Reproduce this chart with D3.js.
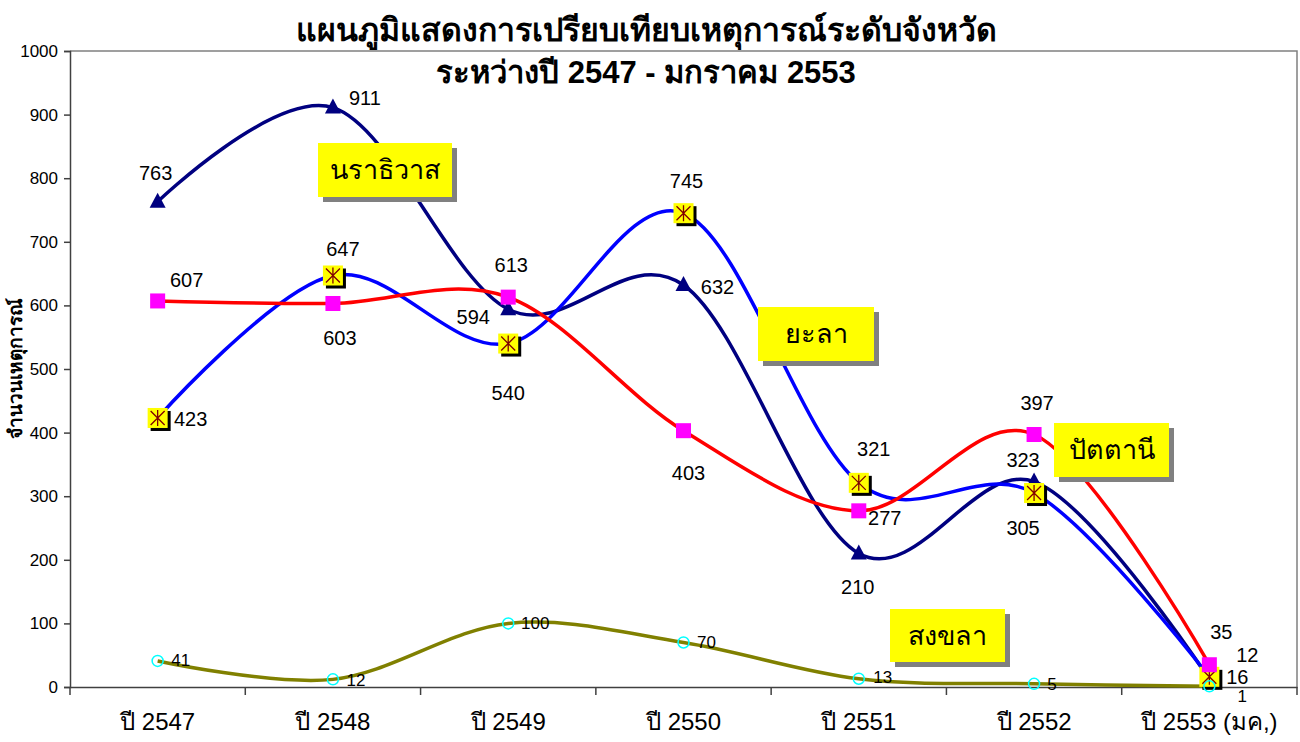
<!DOCTYPE html>
<html><head><meta charset="utf-8">
<script src="https://cdn.jsdelivr.net/npm/d3@7"></script>
<style>
html,body{margin:0;padding:0;background:#fff;}
svg{display:block;font-family:"Liberation Sans",Arial,sans-serif;}
</style></head>
<body><svg id="c" width="1300" height="742"></svg>
<script>
// ---------- data ----------
const categories = ["ปี 2547","ปี 2548","ปี 2549","ปี 2550","ปี 2551","ปี 2552","ปี 2553 (มค,)"];
const narathiwat = [763, 911, 594, 632, 210, 323, 12];
const yala       = [423, 647, 540, 745, 321, 305, 16];
const pattani    = [607, 603, 613, 403, 277, 397, 35];
const songkhla   = [41, 12, 100, 70, 13, 5, 1];
const yTicks = [0,100,200,300,400,500,600,700,800,900,1000];
const titleLines = ["แผนภูมิแสดงการเปรียบเทียบเหตุการณ์ระดับจังหวัด","ระหว่างปี 2547 - มกราคม 2553"];
const yTitle = "จำนวนเหตุการณ์";

// ---------- layout ----------
const L=70, R=1297, T=51, B=687;
const svg=d3.select("#c");
const x=d3.scaleBand().domain(categories).range([L,R]).padding(0);
const cx=c=>x(c)+x.bandwidth()/2;
const y=d3.scaleLinear().domain([0,1000]).range([B,T]);

// plot border (top/right)
svg.append("path").attr("d",`M${L},${T}H${R}V${B}`).attr("fill","none").attr("stroke","#808080").attr("stroke-width",1.5);

// y axis
const ya=svg.append("g").attr("transform",`translate(${L},0)`)
  .call(d3.axisLeft(y).tickValues(yTicks).tickSize(6).tickPadding(6).tickFormat(d3.format("d")));
ya.select(".domain").attr("stroke","#404040").attr("stroke-width",1.5);
ya.selectAll(".tick line").attr("stroke","#404040").attr("stroke-width",1.5);
ya.selectAll(".tick text").attr("font-size",17).attr("fill","#000").attr("font-family","Liberation Sans, Arial, sans-serif");

// x axis
const xa=svg.append("g").attr("transform",`translate(0,${B})`)
  .call(d3.axisBottom(x).tickSize(0).tickPadding(26));
xa.select(".domain").attr("stroke","#404040").attr("stroke-width",1.5);
xa.selectAll(".tick text").attr("font-size",24).attr("fill","#000").attr("font-family","Liberation Sans, Arial, sans-serif");
const bounds=categories.map(c=>x(c)).concat([R]);
svg.append("g").selectAll("line").data(bounds).join("line")
  .attr("x1",d=>d).attr("x2",d=>d).attr("y1",B).attr("y2",B+8)
  .attr("stroke","#404040").attr("stroke-width",1.5);

// titles
svg.append("g").selectAll("text").data(titleLines).join("text")
  .attr("x",646).attr("y",(d,i)=>41+i*42).attr("text-anchor","middle")
  .attr("font-size",(d,i)=>i?31:32).attr("font-weight","bold").text(d=>d);
svg.append("text").attr("transform","translate(22,368) rotate(-90)").attr("text-anchor","middle")
  .attr("font-size",19).attr("font-weight","bold").text(yTitle);

// lines
const curve=d3.curveCardinal.tension(0);
const line=d3.line().x((d,i)=>cx(categories[i])).y(d=>y(d)).curve(curve);
const series=[
  {vals:songkhla,color:"#808000"},
  {vals:narathiwat,color:"#000080"},
  {vals:yala,color:"#0000FF"},
  {vals:pattani,color:"#FF0000"}
];
series.forEach(s=>{
  svg.append("path").attr("d",line(s.vals)).attr("fill","none").attr("stroke",s.color).attr("stroke-width",3.5).attr("stroke-linejoin","round");
});

// markers
const pts=v=>v.map((d,i)=>({v:d,x:cx(categories[i]),y:y(d)}));
svg.append("g").selectAll("path").data(pts(narathiwat)).join("path")
  .attr("d",d=>`M${d.x},${d.y-9}L${d.x+8},${d.y+6}L${d.x-8},${d.y+6}Z`).attr("fill","#000080");
const yg=svg.append("g").selectAll("g").data(pts(yala)).join("g").attr("transform",d=>`translate(${d.x},${d.y})`);
yg.append("rect").attr("x",-7).attr("y",-7).attr("width",20).attr("height",20).attr("fill","#000");
yg.append("rect").attr("x",-10).attr("y",-10).attr("width",20).attr("height",20).attr("fill","#FFFF00");
yg.append("path").attr("d","M0,-8V8M-7,-7L7,7M7,-7L-7,7").attr("stroke","#800000").attr("stroke-width",1.3);
svg.append("g").selectAll("rect").data(pts(pattani)).join("rect")
  .attr("x",d=>d.x-7.5).attr("y",d=>d.y-7.5).attr("width",15).attr("height",15).attr("fill","#FF00FF");
svg.append("g").selectAll("circle").data(pts(songkhla)).join("circle")
  .attr("cx",d=>d.x).attr("cy",d=>d.y).attr("r",5.5).attr("fill","none").attr("stroke","#00FFFF").attr("stroke-width",1.5);

// data labels (pixel offsets from point)
const offN=[[-2,-29],[32,-10],[-35,8],[34,2],[-1,34],[-11,-22],[38,-24]];
const offY=[[33,1],[10,-27],[0,49],[3,-32],[15,-34],[-11,35],[28,0]];
const offP=[[29,-21],[7,35],[3,-32],[5,42],[26,7],[3,-32],[12,-33]];
const offS=[[23,0],[23,1],[27,0],[23,0],[24,-1],[18,1],[33,10]];
function labels(vals,offs,fs){
  svg.append("g").selectAll("text").data(pts(vals)).join("text")
    .attr("x",(d,i)=>d.x+offs[i][0]).attr("y",(d,i)=>d.y+offs[i][1])
    .attr("text-anchor","middle").attr("dominant-baseline","central")
    .attr("font-size",fs).attr("fill","#000").text(d=>d.v);
}
labels(narathiwat,offN,20);
labels(yala,offY,20);
labels(pattani,offP,20);
labels(songkhla,offS,17);

// name boxes
const boxes=[
  {t:"นราธิวาส",x:318,y:143,w:134,h:54},
  {t:"ยะลา",x:758,y:307,w:116,h:54},
  {t:"ปัตตานี",x:1054,y:423,w:115,h:54},
  {t:"สงขลา",x:890,y:609,w:115,h:53}
];
const bg=svg.append("g").selectAll("g").data(boxes).join("g");
bg.append("rect").attr("x",d=>d.x+5).attr("y",d=>d.y+5).attr("width",d=>d.w).attr("height",d=>d.h).attr("fill","#808080");
bg.append("rect").attr("x",d=>d.x).attr("y",d=>d.y).attr("width",d=>d.w).attr("height",d=>d.h).attr("fill","#FFFF00");
bg.append("text").attr("x",d=>d.x+d.w/2).attr("y",d=>d.y+d.h/2).attr("text-anchor","middle").attr("dominant-baseline","central")
  .attr("font-size",27).attr("font-weight","normal").attr("fill","#000").text(d=>d.t);
</script></body></html>
